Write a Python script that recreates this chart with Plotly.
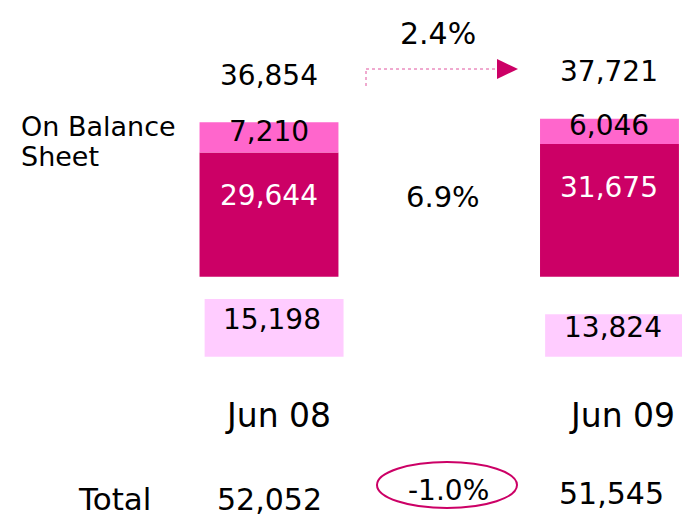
"""
On / off balance sheet comparison, Jun 08 vs Jun 09
"""
import plotly.graph_objects as go

W, H = 682, 520
FONT_FAMILY = "DejaVu Sans, Verdana, sans-serif"

DARK = "#CC0066"
LIGHT = "#FF66CC"
PALE = "#FFCCFF"

periods = ["Jun 08", "Jun 09"]
core_on_bs = [29644, 31675]
other_on_bs = [7210, 6046]
on_bs_total = [36854, 37721]
off_bs = [15198, 13824]
grand_total = [52052, 51545]

OFF_BS_FLOOR = 10000  # off-balance boxes sit on a truncated axis
BAR_W = 0.408
xs = list(range(len(periods)))


def _px(x: float) -> float:
    return x / W


def _py(y: float) -> float:
    return 1 - y / H


def fmt(v: float) -> str:
    return f"{v:,.0f}"


def pct(a: float, b: float) -> str:
    return f"{(b / a - 1) * 100:.1f}%"


def _note(text, x, y, size=28, color="black", xref="x", yref="y", **kw) -> dict:
    return dict(text=text, x=x, y=y, xref=xref, yref=yref, showarrow=False,
                xanchor=kw.pop("xanchor", "center"), yanchor="middle",
                font=dict(family=FONT_FAMILY, size=size, color=color), **kw)


fig = go.Figure()
fig.add_trace(go.Bar(x=xs, y=core_on_bs, width=BAR_W,
                     marker=dict(color=DARK, line_width=0)))
fig.add_trace(go.Bar(x=xs, y=other_on_bs, base=core_on_bs, width=BAR_W,
                     marker=dict(color=LIGHT, line_width=0)))
fig.add_trace(go.Bar(x=xs, y=[v - OFF_BS_FLOOR for v in off_bs], base=OFF_BS_FLOOR,
                     width=BAR_W, offset=-BAR_W / 2 + 0.015, yaxis="y2",
                     marker=dict(color=PALE, line_width=0)))

notes = []
for i in xs:
    notes.append(_note(fmt(on_bs_total[i]), i, on_bs_total[i], yshift=47))
    notes.append(_note(fmt(other_on_bs[i]), i, core_on_bs[i] + other_on_bs[i] / 2, yshift=6))
    notes.append(_note(fmt(core_on_bs[i]), i, core_on_bs[i], color="white", yshift=-43))
    notes.append(_note(fmt(off_bs[i]), i + 0.01, (OFF_BS_FLOOR + off_bs[i]) / 2,
                       yref="y2", yshift=8))
    notes.append(_note(periods[i], i, _py(415), size=33, yref="paper", xshift=[9, 13][i]))
    notes.append(_note(fmt(grand_total[i]), i, _py([499, 493][i]), size=30, yref="paper",
                       xshift=[1, 2][i]))

notes += [
    _note("On Balance", _px(19), _py(126), size=27, xref="paper", yref="paper", xanchor="left"),
    _note("Sheet", _px(19), _py(156), size=27, xref="paper", yref="paper", xanchor="left"),
    _note("Total", _px(115), _py(499), size=31, xref="paper", yref="paper"),
    _note(pct(on_bs_total[0], on_bs_total[1]), _px(438), _py(34), size=30,
          xref="paper", yref="paper"),
    _note(pct(core_on_bs[0], core_on_bs[1]), _px(443), _py(197), size=29,
          xref="paper", yref="paper"),
    _note(pct(grand_total[0], grand_total[1]), _px(448), _py(490), size=28,
          xref="paper", yref="paper"),
]

connector = dict(color="#E0559F", width=1, dash="dot")
shapes = [
    dict(type="line", xref="paper", yref="paper", x0=_px(366), x1=_px(366),
         y0=_py(86), y1=_py(69), line=connector),
    dict(type="line", xref="paper", yref="paper", x0=_px(366), x1=_px(498),
         y0=_py(69), y1=_py(69), line=connector),
    dict(type="path", xref="paper", yref="paper",
         path=f"M {_px(497)},{_py(59)} L {_px(518)},{_py(69)} L {_px(497)},{_py(79)} Z",
         fillcolor=DARK, line=dict(width=0)),
    dict(type="circle", xref="paper", yref="paper", x0=_px(377), x1=_px(517),
         y0=_py(508), y1=_py(462), line=dict(color=DARK, width=2)),
]

fig.update_layout(
    width=W, height=H,
    margin=dict(l=0, r=0, t=0, b=0),
    paper_bgcolor="white", plot_bgcolor="white",
    barmode="overlay", showlegend=False,
    font=dict(family=FONT_FAMILY, color="black"),
    xaxis=dict(range=[-0.790, 1.213], visible=False, fixedrange=True),
    yaxis=dict(range=[-58075, 66050], visible=False, fixedrange=True),
    yaxis2=dict(range=[-4697, 42103], overlaying="y", visible=False, fixedrange=True),
    annotations=notes,
    shapes=shapes,
)

# the page body has a default 8px margin; drop it so the figure fills the window
fig.write_html("out.html", config={"displayModeBar": False},
               post_script="document.body.style.margin = '0';")
